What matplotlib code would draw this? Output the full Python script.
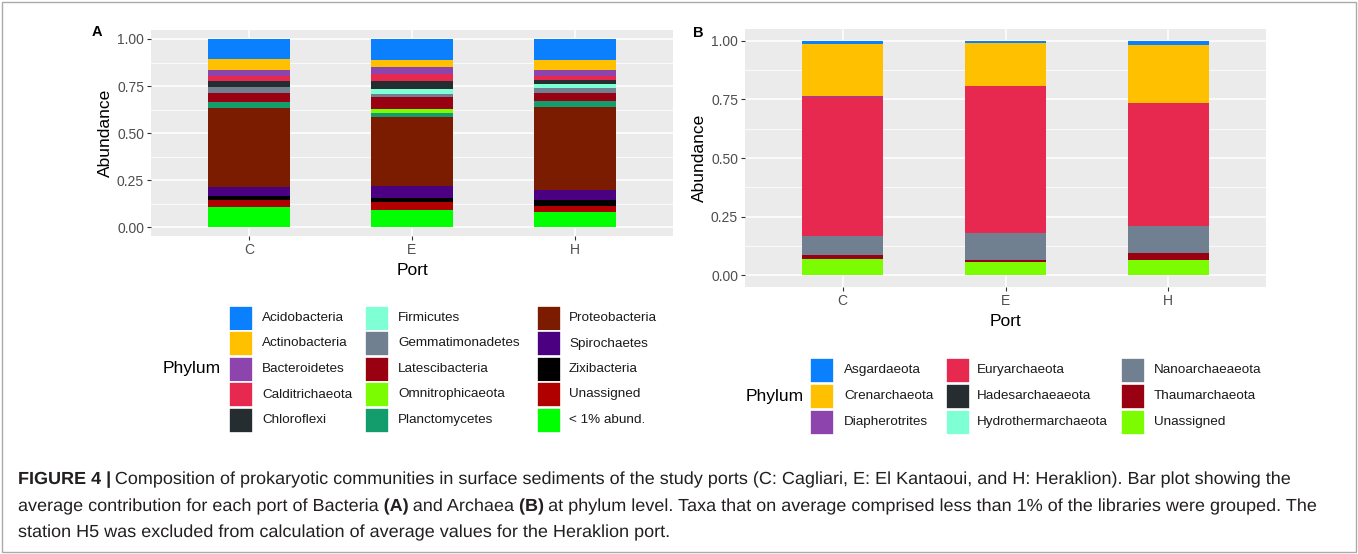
import matplotlib
matplotlib.use('Agg')
import matplotlib.pyplot as plt
from matplotlib.patches import Rectangle, PathPatch
from matplotlib.textpath import TextPath
from matplotlib.font_manager import FontProperties
from matplotlib.transforms import Affine2D
import numpy as np

plt.rcParams['font.family'] = ['Liberation Sans', 'DejaVu Sans']

W, H = 1358, 554
PANEL_BG = "#EBEBEB"
TICK_COLOR = "#4D4D4D"

ports = ["C", "E", "H"]

# Bacteria (panel A), stacked top -> bottom in this order
bact_phyla = ["Acidobacteria", "Actinobacteria", "Bacteroidetes", "Calditrichaeota",
              "Chloroflexi", "Firmicutes", "Gemmatimonadetes", "Latescibacteria",
              "Omnitrophicaeota", "Planctomycetes", "Proteobacteria", "Spirochaetes",
              "Zixibacteria", "Unassigned", "< 1% abund."]
bact_colors = ["#0A80FF", "#FFC000", "#8E44AD", "#E8294F", "#262D30", "#7FFFD4",
               "#708090", "#990012", "#7CFC00", "#139C6C", "#7B1C00", "#4B0082",
               "#000000", "#B00000", "#00FF00"]
bact_C = [0.106, 0.057, 0.032, 0.028, 0.032, 0.000, 0.032, 0.046, 0.000, 0.032,
          0.420, 0.048, 0.023, 0.039, 0.105]
bact_E = [0.113, 0.035, 0.039, 0.039, 0.039, 0.025, 0.021, 0.060, 0.021, 0.025,
          0.367, 0.062, 0.021, 0.044, 0.089]
bact_H = [0.113, 0.050, 0.032, 0.021, 0.021, 0.021, 0.028, 0.046, 0.000, 0.032,
          0.440, 0.050, 0.032, 0.035, 0.079]

# Archaea (panel B)
arch_phyla = ["Asgardaeota", "Crenarchaeota", "Diapherotrites", "Euryarchaeota",
              "Hadesarchaeaeota", "Hydrothermarchaeota", "Nanoarchaeaeota",
              "Thaumarchaeota", "Unassigned"]
arch_colors = ["#0A80FF", "#FFC000", "#8E44AD", "#E8294F", "#262D30", "#7FFFD4",
               "#708090", "#990012", "#7CFC00"]
arch_C = [0.014, 0.221, 0.006, 0.593, 0.000, 0.000, 0.078, 0.017, 0.071]
arch_E = [0.009, 0.182, 0.000, 0.628, 0.000, 0.000, 0.117, 0.009, 0.055]
arch_H = [0.020, 0.246, 0.000, 0.523, 0.000, 0.000, 0.114, 0.034, 0.063]

caption_lines = [
    [("FIGURE 4 |", 'bold'),
     (" Composition of prokaryotic communities in surface sediments of the study ports "
      "(C: Cagliari, E: El Kantaoui, and H: Heraklion). Bar plot showing the", 'normal')],
    [("average contribution for each port of Bacteria", 'normal'), (" (A)", 'bold'),
     (" and Archaea", 'normal'), (" (B)", 'bold'),
     (" at phylum level. Taxa that on average comprised less than 1% of the libraries "
      "were grouped. The", 'normal')],
    [("station H5 was excluded from calculation of average values for the Heraklion port.",
      'normal')],
]


def px_axes(fig, left, top, right, bottom):
    return fig.add_axes([left / W, 1 - bottom / H, (right - left) / W, (bottom - top) / H])


def style_panel(ax):
    ax.set_facecolor(PANEL_BG)
    for spine in ax.spines.values():
        spine.set_visible(False)
    ax.set_xlim(0.4, 3.6)
    ax.set_ylim(-0.05, 1.05)
    ax.set_yticks([0, 0.25, 0.5, 0.75, 1.0])
    ax.set_yticklabels(["0.00", "0.25", "0.50", "0.75", "1.00"])
    ax.set_yticks([0.125, 0.375, 0.625, 0.875], minor=True)
    ax.set_xticks([1, 2, 3])
    ax.set_xticklabels(ports)
    ax.grid(True, which='major', color='white', linewidth=1.1)
    ax.grid(True, which='minor', axis='y', color='white', linewidth=0.55)
    ax.set_axisbelow(True)
    ax.tick_params(which='major', length=3, width=0.8, color='#333333',
                   labelcolor=TICK_COLOR, labelsize=10, pad=2)
    ax.tick_params(which='minor', length=0)
    ax.set_xlabel("Port", fontsize=12.5, color='black', labelpad=4)
    ax.set_ylabel("Abundance", fontsize=12.5, color='black', labelpad=3)


def stacked(ax, series, colors):
    x = np.arange(1, 4)
    data = np.array(series)  # ports x phyla
    # last phylum in the list sits at the bottom of the stack
    bottom = np.zeros(3)
    for j in range(data.shape[1] - 1, -1, -1):
        ax.bar(x, data[:, j], width=0.5, bottom=bottom, color=colors[j], linewidth=0)
        bottom += data[:, j]


def legend(fig, names, colors, x_keys, x_labels, y_rows, title_x, title_y):
    nrow = len(y_rows)
    for i, (name, col) in enumerate(zip(names, colors)):
        c, r = divmod(i, nrow)
        yc = y_rows[r]
        fig.patches.append(Rectangle((x_keys[c] / W, 1 - (yc + 12.5) / H), 24 / W, 25 / H,
                                     transform=fig.transFigure, facecolor=col,
                                     edgecolor='white', linewidth=1.2))
        fig.text(x_labels[c] / W, 1 - yc / H, name, fontsize=9.7, color='#1A1A1A',
                 ha='left', va='center')
    fig.text(title_x / W, 1 - title_y / H, "Phylum", fontsize=12.5, color='black',
             ha='left', va='center')


fig = plt.figure(figsize=(W / 100, H / 100), dpi=100)

axA = px_axes(fig, 151, 29.6, 673, 236.4)
style_panel(axA)
stacked(axA, [bact_C, bact_E, bact_H], bact_colors)

axB = px_axes(fig, 745, 29, 1266, 287)
style_panel(axB)
stacked(axB, [arch_C, arch_E, arch_H], arch_colors)

fig.text(97 / W, 1 - 32 / H, "A", fontsize=10.5, fontweight='bold', ha='center', va='center')
fig.text(698 / W, 1 - 33 / H, "B", fontsize=10.5, fontweight='bold', ha='center', va='center')

legend(fig, bact_phyla, bact_colors, [229, 365, 537], [262, 398, 569],
       [318, 343.5, 369, 394.5, 420], 163, 369)
legend(fig, arch_phyla, arch_colors, [810, 946, 1121], [844, 977, 1154],
       [370, 396, 422], 746, 396)

# outer frame
fig.patches.append(Rectangle((2 / W, 2 / H), (W - 4) / W, (H - 4) / H,
                             transform=fig.transFigure, fill=False,
                             edgecolor='#AAAAAA', linewidth=1))

# caption: condensed look by squeezing glyph outlines horizontally
CAP_EM = 17.5
CAP_COLOR = '#231F20'
cap_props = {w: FontProperties(family='Liberation Sans', weight=w) for w in ('normal', 'bold')}


def ink_right(s, w):
    return TextPath((0, 0), s, size=CAP_EM, prop=cap_props[w]).get_extents().x1


space_w = ink_right("a a", 'normal') - ink_right("aa", 'normal')


def caption_line(segs, baseline, sx, draw=True):
    x = 18.0
    for s, w in segs:
        if s.startswith(' '):
            x += space_w * sx
            s = s.lstrip()
        path = TextPath((0, 0), s, size=CAP_EM, prop=cap_props[w])
        if draw:
            tr = Affine2D().scale(sx, 1).translate(x, H - baseline)
            fig.add_artist(PathPatch(path, transform=tr, facecolor=CAP_COLOR, lw=0))
        x += path.get_extents().x1 * sx
    return x


sx = (1290 - 18) / (caption_line(caption_lines[0], 0, 1.0, draw=False) - 18)
for segs, base in zip(caption_lines, [484, 511, 537]):
    caption_line(segs, base, sx)

fig.savefig("out.png", dpi=100)
